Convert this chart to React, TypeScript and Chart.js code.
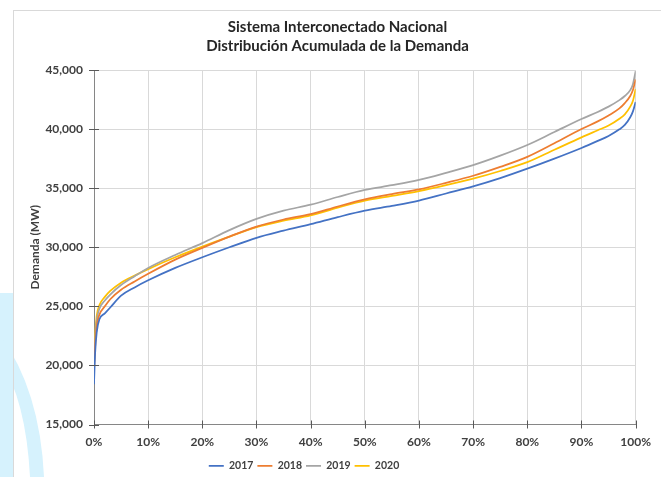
import React, { useEffect, useRef } from "react";
import { Chart, registerables } from "chart.js";

Chart.register(...registerables);

// ---- data ----
const titleLines = ["Sistema Interconectado Nacional", "Distribución Acumulada de la Demanda"];
const yAxisTitle = "Demanda (MW)";
const seriesLabels = ["2017", "2018", "2019", "2020"];
const seriesColors = ["#4472C4", "#ED7D31", "#A5A5A5", "#FFC000"];

// cumulative % of time (x)
const xPct = [0, 0.2, 0.5, 1, 2, 3, 5, 7.5, 10, 15, 20, 25, 30, 35, 40, 45, 50, 55, 60, 65, 70, 75, 80, 85, 90, 93, 95, 97, 98, 99, 99.5, 100];

const demand2017 = [18400, 21000, 22800, 23900, 24400, 24900, 25900, 26600, 27200, 28250, 29150, 30000, 30800, 31400, 31950, 32550, 33100, 33500, 33950, 34550, 35150, 35850, 36650, 37500, 38400, 39000, 39420, 39980, 40350, 41000, 41500, 42300];
const demand2018 = [19500, 21500, 23300, 24300, 25000, 25600, 26400, 27100, 27750, 28950, 29950, 30900, 31750, 32350, 32800, 33450, 34050, 34500, 34900, 35450, 36050, 36800, 37650, 38800, 40000, 40650, 41150, 41750, 42200, 42800, 43300, 44200];
const demand2019 = [20000, 22000, 23800, 24800, 25500, 26000, 26800, 27550, 28250, 29350, 30350, 31450, 32400, 33100, 33600, 34250, 34850, 35250, 35700, 36300, 36950, 37750, 38650, 39750, 40850, 41450, 41900, 42450, 42800, 43300, 43800, 44900];
const demand2020 = [20000, 22500, 24200, 25100, 25800, 26300, 27000, 27600, 28150, 29150, 30050, 30900, 31700, 32250, 32700, 33350, 33950, 34350, 34750, 35250, 35800, 36450, 37200, 38250, 39300, 39900, 40300, 40880, 41250, 41900, 42400, 43400];

const seriesValues = [demand2017, demand2018, demand2019, demand2020];

const xMin = 0, xMax = 100, xStep = 10;
const yMin = 15000, yMax = 45000, yStep = 5000;

const FONT = "Lato, 'Open Sans', sans-serif";
const TEXT = "#404040";

const titlePlugin = {
  id: "twoLineTitle",
  afterDraw(chart: any) {
    const ctx = chart.ctx;
    ctx.save();
    ctx.fillStyle = "#262626";
    ctx.font = `bold 15px ${FONT}`;
    ctx.textAlign = "center";
    ctx.textBaseline = "middle";
    ctx.fillText(titleLines[0], 337.5, 27);
    ctx.fillText(titleLines[1], 337.5, 46);
    ctx.restore();
  },
};

// shift the legend slightly left, as in the reference
const legendShift = {
  id: "legendShift",
  afterLayout(chart: any) {
    if (chart.legend) {
      chart.legend.left -= 21;
      chart.legend.right -= 21;
    }
  },
};

const crossTicks = {
  id: "crossTicks",
  afterDraw(chart: any) {
    const ctx = chart.ctx;
    const { x, y } = chart.scales;
    const a = chart.chartArea;
    ctx.save();
    ctx.strokeStyle = "#595959";
    ctx.lineWidth = 1;
    ctx.beginPath();
    y.ticks.forEach((t: any) => {
      const py = Math.round(y.getPixelForValue(t.value)) + 0.5;
      ctx.moveTo(a.left - 5, py);
      ctx.lineTo(a.left + 5, py);
    });
    x.ticks.forEach((t: any) => {
      const px = Math.round(x.getPixelForValue(t.value)) + 0.5;
      ctx.moveTo(px, a.bottom - 4);
      ctx.lineTo(px, a.bottom + 4);
    });
    ctx.stroke();
    ctx.restore();
  },
};

export default function App() {
  const ref = useRef<HTMLCanvasElement>(null);

  useEffect(() => {
    const chart = new Chart(ref.current!, {
      type: "line",
      data: {
        datasets: seriesLabels.map((label, i) => ({
          label,
          data: xPct.map((xv, j) => ({ x: xv, y: seriesValues[i][j] })),
          borderColor: seriesColors[i],
          backgroundColor: seriesColors[i],
          borderWidth: 1.75,
          pointRadius: 0,
          cubicInterpolationMode: "monotone" as const,
          fill: false,
        })),
      },
      options: {
        responsive: false,
        animation: false,
        layout: { padding: { left: 13, right: 24, top: 70, bottom: -4 } },
        plugins: {
          title: { display: false },
          tooltip: { enabled: false },
          legend: {
            position: "bottom",
            labels: {
              usePointStyle: true,
              pointStyle: "line",
              pointStyleWidth: 15,
              padding: 4,
              color: TEXT,
              font: { family: FONT, size: 10.5, weight: "bold" },
            },
          },
        },
        scales: {
          x: {
            type: "linear",
            min: xMin,
            max: xMax,
            ticks: {
              stepSize: xStep,
              callback: (v: any) => `${v}%`,
              padding: 10,
              color: TEXT,
              font: { family: FONT, size: 12, weight: "bold" },
              maxRotation: 0,
            },
            grid: { color: "#d9d9d9", drawTicks: false },
            border: { color: "#868686" },
            afterFit: (s: any) => { s.height = 32; },
          },
          y: {
            type: "linear",
            min: yMin,
            max: yMax,
            ticks: {
              stepSize: yStep,
              callback: (v: any) => Number(v).toLocaleString("en-US"),
              padding: 11,
              color: TEXT,
              font: { family: FONT, size: 12, weight: "bold" },
            },
            title: {
              display: true,
              text: yAxisTitle,
              color: TEXT,
              font: { family: FONT, size: 12, weight: "bold" },
              padding: { top: 15, bottom: 0 },
            },
            grid: { color: "#d9d9d9", drawTicks: false },
            border: { color: "#868686" },
            afterFit: (s: any) => { s.width = 81; },
          },
        },
      },
      plugins: [titlePlugin, legendShift, crossTicks],
    } as any);
    return () => chart.destroy();
  }, []);

  return (
    <div style={{ position: "fixed", left: 0, top: 0, width: 661, height: 477, background: "#fff", overflow: "hidden" }}>
      <svg width={661} height={477} style={{ position: "absolute", left: 0, top: 0 }}>
        <rect x={0} y={293} width={13} height={184} fill="#d6f2fd" />
        <path d="M0 335 Q 40 390 44 477 L 30 477 Q 26 400 0 360 Z" fill="#d6f2fd" />
      </svg>
      <div style={{ position: "absolute", left: 13, top: 10, width: 700, height: 500, borderLeft: "1px solid #d9d9d9", borderTop: "1px solid #d9d9d9" }} />
      <canvas ref={ref} width={661} height={477} style={{ position: "absolute", left: 0, top: 0 }} />
    </div>
  );
}
